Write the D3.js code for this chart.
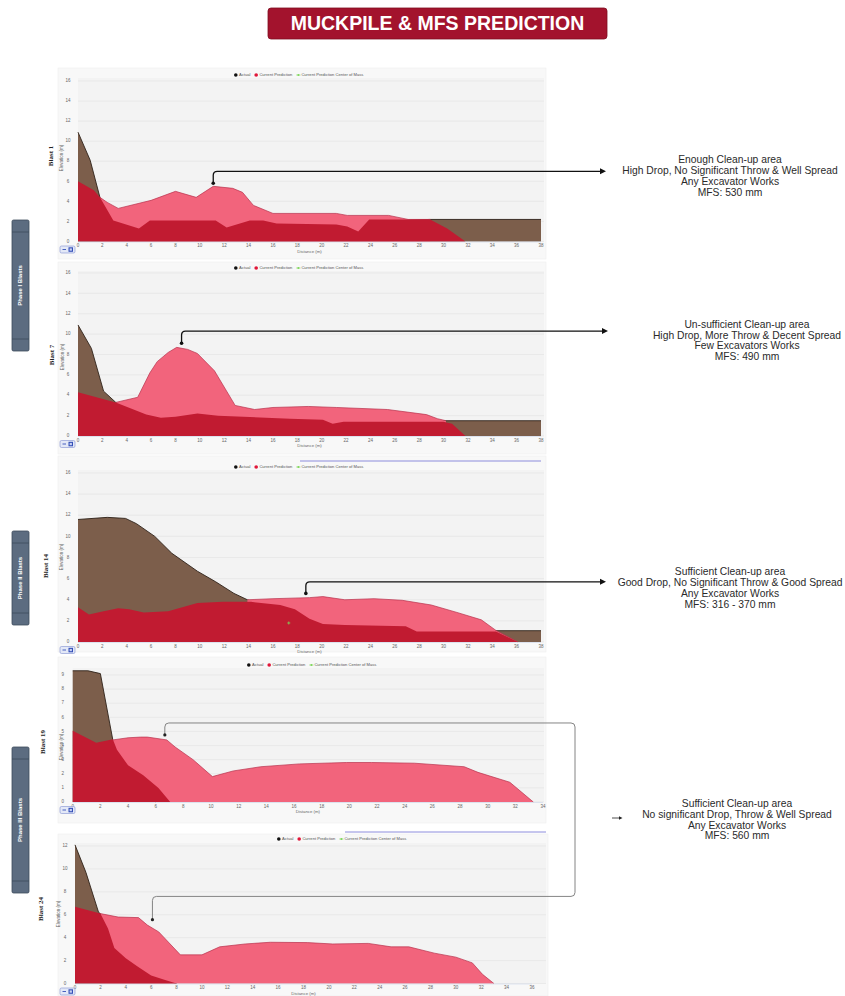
<!DOCTYPE html>
<html>
<head>
<meta charset="utf-8">
<script src="https://cdn.jsdelivr.net/npm/d3@7"></script>
<style>
  body { margin: 0; background: #ffffff; }
  svg { display: block; font-family: "Liberation Sans", Arial, sans-serif; }
</style>
</head>
<body>
<svg id="chart" width="845" height="996"></svg>
<script>
// ---- data -------------------------------------------------------------
const pageTitle = "MUCKPILE & MFS PREDICTION";
const blastNames = ["Blast 1", "Blast 7", "Blast 14", "Blast 19", "Blast 24"];
const phaseNames = ["Phase I Blasts", "Phase II Blasts", "Phase III Blasts"];
const legendLabels = ["Actual", "Current Prediction", "Current Prediction Center of Mass"];
const xTitle = "Distance (m)";
const yTitle = "Elevation (m)";

// [distance (m), elevation (m)]
const actual1 = [[0,10.9],[1,8.1],[1.8,4.4],[2.9,2.1],[5,1.3],[28.9,2.2],[38,2.2]];
const predicted1 = [[1.8,4.4],[2.4,3.9],[3.3,3.3],[6,4.1],[8,5.0],[9.7,4.4],[11.1,5.5],[12.7,5.3],[13.5,4.9],[14.4,3.6],[16,2.8],[21.2,2.8],[22.1,2.6],[25.5,2.6],[27.1,2.2],[28.9,2.2]];
const base1 = [[0,6.0],[1.3,5.1],[1.8,4.4],[2.9,2.1],[5,1.3],[5.9,2.1],[11.3,2.1],[12.2,1.4],[14.1,2.1],[15.2,2.1],[16.3,1.8],[21.2,1.7],[22.1,1.5],[23,1.0],[23.9,2.2],[28.9,2.2],[30.3,1.3],[31.8,0]];

const actual7 = [[0,10.9],[1.1,8.6],[2.1,4.4],[3.1,3.3],[5,2.0],[30,1.5],[38,1.5]];
const predicted7 = [[3.1,3.3],[4.9,3.8],[5.9,6.2],[6.5,7.3],[7.4,8.2],[8.1,8.7],[9,8.5],[9.8,8.1],[11.2,6.4],[12.9,3.0],[14.5,2.6],[16,2.8],[18.9,2.9],[21.2,2.8],[25.4,2.6],[28.6,2.1],[29.5,1.7],[30.2,1.5]];
const base7 = [[0,4.3],[3.1,3.3],[5.6,2.1],[6.8,1.8],[8,1.9],[9.8,2.2],[11.5,2.0],[17.4,1.7],[20.1,1.6],[20.9,1.2],[21.8,1.4],[30,1.4],[30.7,1.2],[31.8,0]];

const actual14 = [[0,11.6],[2.4,11.8],[3.9,11.7],[4.8,11.2],[6.3,10.0],[7.7,8.4],[9.8,6.7],[11.3,5.7],[12.8,4.6],[13.9,4.0],[16,3.0],[20,1.5],[34.3,1.07],[38,1.07]];
const predicted14 = [[13.9,4.0],[16,4.1],[19,4.2],[20.1,4.3],[21.9,4.0],[24.3,4.1],[26.6,3.95],[29,3.5],[31.1,2.8],[33.1,2.1],[34.3,1.1],[36.1,0]];
const base14 = [[0,3.3],[0.9,2.6],[2.1,2.9],[3.3,3.2],[4.2,3.1],[5.4,2.8],[7.4,2.9],[9.8,3.7],[11.9,3.8],[14.2,3.8],[16.6,3.5],[17.8,3.1],[19,2.2],[20.1,1.7],[21.9,1.6],[26.9,1.5],[27.8,1.0],[34.3,1.0],[36.1,0]];
const centerOfMass14 = [[17.3,1.8]];

const actual19 = [[0,9.3],[1.1,9.3],[2,9.1],[2.9,4.4],[4,1.5],[6,0]];
const predicted19 = [[2.9,4.4],[4.0,4.55],[4.9,4.6],[5.4,4.6],[6.8,4.4],[7.4,3.9],[8.7,3.0],[10.1,1.8],[11.6,2.2],[13.6,2.5],[16.4,2.7],[19.8,2.8],[21.6,2.8],[24.7,2.75],[28.3,2.5],[29.3,2.1],[31.6,1.4],[33.3,0]];
const base19 = [[0,5.05],[1.7,4.2],[2.9,4.45],[3.2,3.7],[4,2.6],[5.1,1.9],[6.2,1.0],[7.05,0]];

const actual24 = [[0,12.1],[0.86,9.7],[1.86,6.2],[2,6.1],[3,3.5],[5,1.0],[8,0]];
const predicted24 = [[2,6.1],[3.4,5.8],[5,5.75],[5.7,5.1],[6.6,4.5],[8.3,2.5],[10,2.5],[11.4,3.2],[13.4,3.45],[15.4,3.6],[18.3,3.57],[20.3,3.45],[23.1,3.5],[24.9,3.2],[26.3,3.2],[28.3,2.65],[30,2.3],[31.3,1.8],[32.1,0.8],[33,0]];
const base24 = [[0,6.7],[2,6.1],[2.6,4.8],[3.1,3.1],[4,2.2],[4.9,1.5],[6,0.7],[7.1,0.3],[8,0]];

const xMaxes = [38, 38, 38, 34, 36];
const yMaxes = [16, 16, 16, 9, 12];
const ySteps = [2, 2, 2, 1, 2];

const notes1 = ["Enough Clean-up area", "High Drop,  No Significant Throw & Well Spread", "Any Excavator Works", "MFS: 530 mm"];
const notes7 = ["Un-sufficient Clean-up area", "High Drop, More Throw & Decent Spread", "Few Excavators Works", "MFS: 490 mm"];
const notes14 = ["Sufficient Clean-up area", "Good Drop, No Significant Throw & Good Spread", "Any Excavator Works", "MFS: 316 - 370 mm"];
const notes19 = ["Sufficient Clean-up area", "No significant Drop, Throw & Well Spread", "Any Excavator Works", "MFS: 560 mm"];

// ---- styling / layout ---------------------------------------------------
const C = {
  actual: "#7c5e4b", actualLine: "#2e2119",
  predicted: "#f2647c", predictedLine: "#b8304c",
  base: "#c11b31",
  com: "#7fd65a",
  grid: "#e2e2e2", frame: "#f8f8f8", plotBg: "#f3f3f3",
  tick: "#666", phase: "#5c6c80", phaseDark: "#3d4b5c",
  title: "#a3132d"
};

const layouts = [
  { frame: [58, 68, 488, 191],  left: 78,   right: 541, bottom: 241.5, top: 81,  plotTop: 78,  legendX: 234, legendY: 75,  blastX: 51, blastY: 156, elevX: 62, elevY: 158 },
  { frame: [58, 262, 488, 192], left: 78,   right: 541, bottom: 436,   top: 273, plotTop: 271, legendX: 234, legendY: 268, blastX: 52, blastY: 355, elevX: 63, elevY: 357 },
  { frame: [58, 456, 488, 196], left: 78,   right: 541, bottom: 642,   top: 473, plotTop: 470, legendX: 234, legendY: 467, blastX: 46, blastY: 566, elevX: 62, elevY: 557 },
  { frame: [58, 657, 488, 166], left: 72.7, right: 543, bottom: 802,   top: 675, plotTop: 668, legendX: 247, legendY: 665, blastX: 43, blastY: 742, elevX: 62, elevY: 747 },
  { frame: [58, 834, 490, 162], left: 75,   right: 532, bottom: 983.5, top: 846, plotTop: 843, legendX: 277, legendY: 839, blastX: 41, blastY: 909, elevX: 59, elevY: 914 }
];

const series = [
  { actual: actual1,  predicted: predicted1,  base: base1 },
  { actual: actual7,  predicted: predicted7,  base: base7 },
  { actual: actual14, predicted: predicted14, base: base14, com: centerOfMass14 },
  { actual: actual19, predicted: predicted19, base: base19 },
  { actual: actual24, predicted: predicted24, base: base24 }
];

const svg = d3.select("#chart");
svg.append("rect").attr("width", 845).attr("height", 996).attr("fill", "#fff");

// ---- title banner -----------------------------------------------------
svg.append("rect").attr("x", 268).attr("y", 8).attr("width", 339).attr("height", 31)
  .attr("rx", 3).attr("fill", C.title).attr("stroke", "#7e0c20").attr("stroke-width", 0.8);
svg.append("text").attr("x", 437.5).attr("y", 24.5).attr("text-anchor", "middle")
  .attr("dominant-baseline", "middle").attr("fill", "#fff").attr("font-weight", "bold")
  .attr("font-size", 19.5).text(pageTitle);

// ---- panels -----------------------------------------------------------
const scales = [];

layouts.forEach((L, i) => {
  const S = series[i];
  const g = svg.append("g");
  const x = d3.scaleLinear().domain([0, xMaxes[i]]).range([L.left, L.right]);
  const y = d3.scaleLinear().domain([0, yMaxes[i]]).range([L.bottom, L.top]);
  scales.push({ x, y });

  g.append("rect").attr("x", L.frame[0]).attr("y", L.frame[1]).attr("width", L.frame[2]).attr("height", L.frame[3])
    .attr("fill", C.frame).attr("stroke", "#eeeeee").attr("stroke-width", 0.6);
  g.append("rect").attr("x", L.left).attr("y", L.plotTop).attr("width", L.frame[0] + L.frame[2] - 2 - L.left)
    .attr("height", L.bottom - L.plotTop).attr("fill", C.plotBg);

  // gridlines + y tick labels
  const yTicks = d3.range(0, yMaxes[i] + 0.001, ySteps[i]);
  g.selectAll(".grid").data(yTicks).join("line")
    .attr("x1", L.left).attr("x2", L.frame[0] + L.frame[2] - 2)
    .attr("y1", d => y(d)).attr("y2", d => y(d))
    .attr("stroke", C.grid).attr("stroke-width", 0.6);
  g.selectAll(".ylab").data(yTicks).join("text")
    .attr("x", L.left - 10).attr("y", d => y(d)).attr("text-anchor", "middle")
    .attr("dominant-baseline", "middle").attr("font-size", 4.5).attr("fill", C.tick).text(d => d);

  // areas: actual behind, prediction over it, base in front
  const area = d3.area().x(d => x(d[0])).y0(y(0)).y1(d => y(d[1]));
  const line = d3.line().x(d => x(d[0])).y(d => y(d[1]));
  g.append("path").datum(S.actual).attr("d", area).attr("fill", C.actual);
  g.append("path").datum(S.actual).attr("d", line).attr("fill", "none").attr("stroke", C.actualLine).attr("stroke-width", 0.9);
  g.append("path").datum(S.predicted).attr("d", area).attr("fill", C.predicted);
  g.append("path").datum(S.predicted).attr("d", line).attr("fill", "none").attr("stroke", C.predictedLine).attr("stroke-width", 0.7);
  g.append("path").datum(S.base).attr("d", area).attr("fill", C.base);

  if (S.com) {
    g.selectAll(".com").data(S.com).join("path")
      .attr("d", d => `M${x(d[0]) - 1.5},${y(d[1])}h3M${x(d[0])},${y(d[1]) - 1.5}v3`)
      .attr("stroke", C.com).attr("stroke-width", 0.8);
  }

  // x axis
  g.append("line").attr("x1", L.left).attr("x2", L.right).attr("y1", L.bottom + 0.5).attr("y2", L.bottom + 0.5)
    .attr("stroke", "#ccd6eb").attr("stroke-width", 0.6);
  const xTicks = d3.range(0, xMaxes[i] + 0.001, 2);
  g.selectAll(".xlab").data(xTicks).join("text")
    .attr("x", d => x(d)).attr("y", L.bottom + 4.8).attr("text-anchor", "middle")
    .attr("dominant-baseline", "middle").attr("font-size", 4.5).attr("fill", C.tick).text(d => d);
  g.append("text").attr("x", (L.left + L.right) / 2).attr("y", L.bottom + 10.2).attr("text-anchor", "middle")
    .attr("dominant-baseline", "middle").attr("font-size", 4.3).attr("fill", C.tick).text(xTitle);

  // y titles
  g.append("text").attr("transform", `translate(${L.elevX},${L.elevY}) rotate(-90)`).attr("text-anchor", "middle")
    .attr("dominant-baseline", "middle").attr("font-size", 4.5).attr("fill", C.tick).text(yTitle);
  g.append("text").attr("transform", `translate(${L.blastX},${L.blastY}) rotate(-90)`).attr("text-anchor", "middle")
    .attr("dominant-baseline", "middle").attr("font-size", 7).attr("font-weight", "bold")
    .attr("font-family", "'Liberation Serif', 'Times New Roman', serif").attr("fill", "#222").text(blastNames[i]);

  // legend
  const lg = g.append("g").attr("transform", `translate(${L.legendX},${L.legendY})`);
  let cx = 0;
  legendLabels.forEach((lab, k) => {
    if (k < 2) {
      lg.append("circle").attr("cx", cx + 1.8).attr("cy", 0).attr("r", 1.8).attr("fill", k === 0 ? "#111" : "#e0173a");
    } else {
      lg.append("line").attr("x1", cx).attr("x2", cx + 4).attr("y1", 0).attr("y2", 0).attr("stroke", C.com).attr("stroke-width", 0.8);
      lg.append("circle").attr("cx", cx + 2).attr("cy", 0).attr("r", 0.9).attr("fill", C.com);
    }
    const t = lg.append("text").attr("x", cx + 5).attr("y", 0).attr("dominant-baseline", "middle")
      .attr("font-size", 4.1).attr("fill", "#555").text(lab);
    cx += 5 + t.node().getComputedTextLength() + 4;
  });

  // reset-zoom style button
  const b = g.append("g").attr("transform", `translate(60,${Math.min(L.bottom + 4.5, 988.5)})`);
  b.append("rect").attr("width", 15).attr("height", 7).attr("rx", 1.5).attr("fill", "#e3e8f7").attr("stroke", "#7f8fd0").attr("stroke-width", 0.6);
  b.append("line").attr("x1", 2.5).attr("x2", 6).attr("y1", 3.5).attr("y2", 3.5).attr("stroke", "#3550b8").attr("stroke-width", 0.9);
  b.append("rect").attr("x", 8.5).attr("y", 1.3).attr("width", 4.5).attr("height", 4.5).attr("fill", "#3550b8");
  b.append("rect").attr("x", 9.6).attr("y", 2.4).attr("width", 2.3).attr("height", 2.3).attr("fill", "#c9d2f2");
});

// range bars along the top edge of two charts
svg.append("line").attr("x1", 300).attr("x2", 541).attr("y1", 461).attr("y2", 461).attr("stroke", "#8c8cdc").attr("stroke-width", 1);
svg.append("line").attr("x1", 345).attr("x2", 546).attr("y1", 832).attr("y2", 832).attr("stroke", "#8c8cdc").attr("stroke-width", 1);

// ---- phase tags -------------------------------------------------------
const phaseBoxes = [[12, 220, 17, 131], [12, 531, 17, 94], [12, 747, 17, 146]];
phaseBoxes.forEach((p, k) => {
  const g = svg.append("g");
  g.append("rect").attr("x", p[0]).attr("y", p[1]).attr("width", p[2]).attr("height", p[3]).attr("rx", 1.5)
    .attr("fill", C.phase).attr("stroke", C.phaseDark).attr("stroke-width", 0.8);
  [p[1] + 12, p[1] + p[3] - 12].forEach(yy => g.append("line").attr("x1", p[0]).attr("x2", p[0] + p[2])
    .attr("y1", yy).attr("y2", yy).attr("stroke", C.phaseDark).attr("stroke-width", 0.8));
  g.append("text").attr("transform", `translate(${p[0] + p[2] / 2},${p[1] + p[3] / 2}) rotate(-90)`)
    .attr("text-anchor", "middle").attr("dominant-baseline", "middle").attr("fill", "#fff")
    .attr("font-size", 6).attr("font-weight", "bold").text(phaseNames[k]);
});

// ---- callouts ---------------------------------------------------------
const callouts = [
  { panel: 0, at: [11.1, 5.8], elbow: 7.0, endX: 600 },
  { panel: 1, at: [8.5, 9.1], elbow: 10.3, endX: 602 },
  { panel: 2, at: [18.7, 4.6], elbow: 5.7, endX: 600 }
];
const r = 4;
callouts.forEach(c => {
  const s = scales[c.panel];
  const ax = s.x(c.at[0]), ay = s.y(c.at[1]), ey = s.y(c.elbow);
  svg.append("path").attr("d", `M${ax},${ay}V${ey + r}Q${ax},${ey} ${ax + r},${ey}H${c.endX}`)
    .attr("fill", "none").attr("stroke", "#111").attr("stroke-width", 1.3);
  svg.append("circle").attr("cx", ax).attr("cy", ay).attr("r", 1.8).attr("fill", "#111");
  svg.append("path").attr("d", `M${c.endX},${ey - 3}L${c.endX + 6},${ey}L${c.endX},${ey + 3}Z`).attr("fill", "#111");
});

// shared callout for the two phase III charts
{
  const s4 = scales[3], s5 = scales[4];
  const a4 = [s4.x(6.66), s4.y(4.75)], e4 = s4.y(5.6);
  const a5 = [s5.x(6.1), s5.y(5.57)], e5 = s5.y(7.6);
  const rx = 575;
  svg.append("path").attr("d",
    `M${a4[0]},${a4[1]}V${e4 + r}Q${a4[0]},${e4} ${a4[0] + r},${e4}H${rx - r}Q${rx},${e4} ${rx},${e4 + r}` +
    `V${e5 - r}Q${rx},${e5} ${rx - r},${e5}H${a5[0] + r}Q${a5[0]},${e5} ${a5[0]},${e5 + r}V${a5[1]}`)
    .attr("fill", "none").attr("stroke", "#777").attr("stroke-width", 0.9);
  svg.append("circle").attr("cx", a4[0]).attr("cy", a4[1]).attr("r", 1.6).attr("fill", "#222");
  svg.append("circle").attr("cx", a5[0]).attr("cy", a5[1]).attr("r", 1.6).attr("fill", "#222");
  svg.append("line").attr("x1", 612).attr("x2", 619).attr("y1", 818).attr("y2", 818).attr("stroke", "#222").attr("stroke-width", 0.8);
  svg.append("path").attr("d", "M619,816.3L622.5,818L619,819.7Z").attr("fill", "#222");
}

// ---- notes ------------------------------------------------------------
const noteBlocks = [
  { lines: notes1, cx: 730, y: 160.7 },
  { lines: notes7, cx: 747, y: 325 },
  { lines: notes14, cx: 730, y: 572.5 },
  { lines: notes19, cx: 737, y: 804.3 }
];
noteBlocks.forEach(nb => {
  svg.append("g").selectAll("text").data(nb.lines).join("text")
    .attr("x", nb.cx).attr("y", (d, k) => nb.y + k * 10.8)
    .attr("text-anchor", "middle").attr("dominant-baseline", "middle")
    .attr("font-size", 10.3).attr("fill", "#2a2a2a").text(d => d);
});
</script>
</body>
</html>
